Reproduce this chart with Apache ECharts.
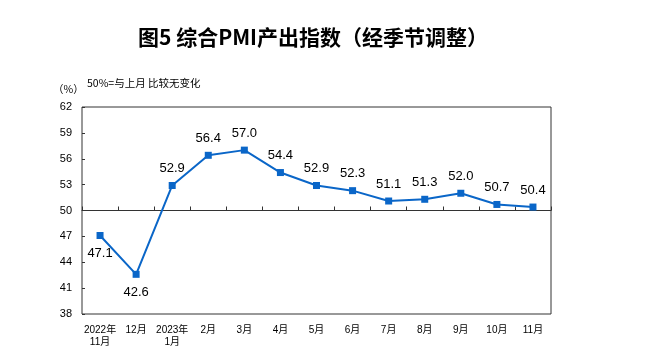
<!DOCTYPE html>
<html>
<head>
<meta charset="utf-8">
<script src="https://cdn.jsdelivr.net/npm/echarts@6/dist/echarts.min.js"></script>
<style>html,body{margin:0;padding:0;background:#fff}#c{width:651px;height:363px}</style>
</head>
<body>
<div id="c"></div>
<script>
const titleText = '图5 综合PMI产出指数（经季节调整）';
const unitText = '（%）';
const noteText = '50%=与上月 比较无变化';
const categories = ['2022年\n11月','12月','2023年\n1月','2月','3月','4月','5月','6月','7月','8月','9月','10月','11月'];
const pmiValues = [47.1, 42.6, 52.9, 56.4, 57.0, 54.4, 52.9, 52.3, 51.1, 51.3, 52.0, 50.7, 50.4];
const yMin = 38, yMax = 62, yStep = 3, refLevel = 50;

const belowIdx = [0, 1];
const seriesData = pmiValues.map((v, i) => belowIdx.includes(i)
  ? { value: v, label: { position: 'bottom', distance: 8 } }
  : v);

const chart = echarts.init(document.getElementById('c'), null, { renderer: 'canvas' });
const L = 82, W = 469, T = 107, H = 207;
const refH = H * (yMax - refLevel) / (yMax - yMin);
chart.setOption({
  animation: false,
  backgroundColor: '#fff',
  graphic: [
    { type: 'text', x: 313, y: 37, style: { text: titleText, font: 'bold 21px "Noto Sans CJK SC"', fill: '#000', align: 'center', verticalAlign: 'middle' } },
    { type: 'text', x: 53, y: 89, style: { text: unitText, font: '10.5px "Noto Sans CJK SC"', fill: '#000', verticalAlign: 'middle' } },
    { type: 'text', x: 87, y: 83, style: { text: noteText, font: '10.5px "Noto Sans CJK SC"', fill: '#000', verticalAlign: 'middle' } }
  ],
  grid: [
    { left: L, top: T, width: W, height: H, show: true, borderColor: '#333', borderWidth: 1, backgroundColor: 'transparent' },
    { left: L, top: T, width: W, height: refH, show: false }
  ],
  xAxis: [
    {
      type: 'category', gridIndex: 0, data: categories, boundaryGap: true,
      axisLine: { show: false }, axisTick: { show: false },
      axisLabel: { interval: 0, margin: 10, fontSize: 10, lineHeight: 12, color: '#000', fontFamily: '"Liberation Sans","Noto Sans CJK SC"' }
    },
    {
      type: 'category', gridIndex: 1, data: categories, boundaryGap: true, position: 'bottom',
      axisLine: { show: true, onZero: false, lineStyle: { color: '#333', width: 1 } },
      axisTick: { show: true, inside: true, length: 4, interval: 0, lineStyle: { color: '#333' } },
      axisLabel: { show: false }
    }
  ],
  yAxis: [
    {
      type: 'value', gridIndex: 0, min: yMin, max: yMax, interval: yStep,
      axisLine: { show: false }, splitLine: { show: false },
      axisTick: { show: true, inside: true, length: 3, lineStyle: { color: '#333' } },
      axisLabel: { margin: 10, fontSize: 11, color: '#000', fontFamily: '"Liberation Sans"' }
    },
    { type: 'value', gridIndex: 1, show: false, min: 0, max: 1 }
  ],
  series: [{
    type: 'line', xAxisIndex: 0, yAxisIndex: 0, data: seriesData,
    symbol: 'rect', symbolSize: 7,
    itemStyle: { color: '#0a66c8' },
    lineStyle: { color: '#0a66c8', width: 2 },
    label: { show: true, position: 'top', distance: 7, fontSize: 13, color: '#000', fontFamily: '"Liberation Sans"', formatter: p => p.value.toFixed(1) }
  }]
});
</script>
</body>
</html>
